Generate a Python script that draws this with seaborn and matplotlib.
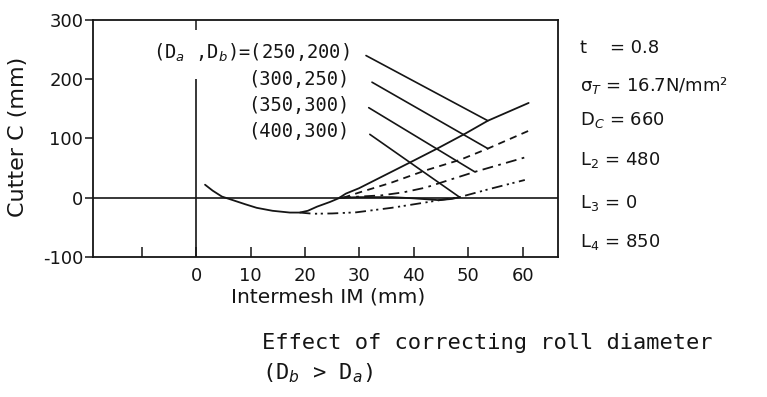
import numpy as np
import pandas as pd
import matplotlib
matplotlib.use("Agg")
import matplotlib.pyplot as plt
import seaborn as sns

# ---------------- data ----------------
base_x = [1.6, 3.0, 4.7, 6.7, 9.0, 11.1, 14.0, 17.2, 19.0, 20.5, 22.2, 24.6, 26.4,
          30.0, 36.0, 40.0, 44.5, 47.0, 48.4]
base_y = [22, 12, 2, -4, -11, -17, -22, -25, -25, -22, -15, -7, 0,
          1, 1, -1, -4, -2, 1]

s1_x = [26.3, 27.5, 29.9, 39.6, 44.5, 49.4, 53.6, 61.1]          # (250,200) solid
s1_y = [0, 7, 16, 61, 84, 108, 130, 160]
s2_x = [27.0, 30.0, 35.7, 42.1, 48.5, 53.6, 61.1]                # (300,250) dashed
s2_y = [0, 9, 25, 46, 64, 83, 113]
s3_x = [26.4, 30.0, 34.0, 38.0, 42.1, 46.5, 51.2, 60.4]          # (350,300) dash-dot
s3_y = [0, 2, 4, 9, 17, 30, 43.7, 68]
s4_x = [19.0, 21.5, 25.0, 29.4, 35.9, 42.1, 44.5, 48.4, 54.0, 60.4]  # (400,300) dash-dot-dot
s4_y = [-25, -27, -26.5, -24.6, -17, -8, -4.4, 1, 15, 30]

series_names = ["(250,200)", "(300,250)", "(350,300)", "(400,300)"]

# leader lines from the labels to the curves
lead_x0 = [31.2, 32.3, 31.7, 31.9]
lead_y0 = [240, 195, 152, 107]
lead_x1 = [53.6, 53.6, 51.2, 48.4]
lead_y1 = [130, 83, 43.7, 1]

label_texts = ["(D$_a$ ,D$_b$)=(250,200)", "(300,250)", "(350,300)", "(400,300)"]
label_y = [245, 199, 155, 111]
label_x = 28.1

xticks = [-10, 0, 10, 20, 30, 40, 50, 60]
xticklabels = ["", "0", "10", "20", "30", "40", "50", "60"]
yticks = [-100, 0, 100, 200, 300]
yticklabels = ["-100", "0", "100", "200", "300"]

ref_x = 0
ref_ymin, ref_ymax = -100, 200

params = ["t    = 0.8", "σ$_T$ = 16.7N/mm²", "D$_C$ = 660",
          "L$_2$ = 480", "L$_3$ = 0", "L$_4$ = 850"]

# ---------------- figure ----------------
sns.set_theme(style="white")
plt.rcParams["font.family"] = ["DejaVu Sans"]
plt.rcParams["axes.unicode_minus"] = False

W, H = 767, 397
fig = plt.figure(figsize=(W / 100, H / 100), dpi=100)
ax = fig.add_axes([93 / W, 1 - 257 / H, 465 / W, 237 / H])
ink = "#151515"
mono = "DejaVu Sans Mono"

frames = []
for name, xs, ys in zip(series_names, [s1_x, s2_x, s3_x, s4_x], [s1_y, s2_y, s3_y, s4_y]):
    frames.append(pd.DataFrame({"x": xs, "y": ys, "series": name}))
df = pd.concat(frames, ignore_index=True)

dash_map = {"(250,200)": "", "(300,250)": (4, 3),
            "(350,300)": (6, 3, 1.5, 3), "(400,300)": (6, 2.5, 1.2, 2, 1.2, 2.5)}
sns.lineplot(data=df, x="x", y="y", style="series", dashes=dash_map,
             color=ink, linewidth=1.3, estimator=None, sort=False,
             legend=False, ax=ax)

base_df = pd.DataFrame({"x": base_x, "y": base_y})
sns.lineplot(data=base_df, x="x", y="y", color=ink, linewidth=1.3,
             estimator=None, sort=False, legend=False, ax=ax)

for i in range(len(lead_x0)):
    ldf = pd.DataFrame({"x": [lead_x0[i], lead_x1[i]], "y": [lead_y0[i], lead_y1[i]]})
    sns.lineplot(data=ldf, x="x", y="y", color=ink, linewidth=1.2,
                 estimator=None, sort=False, legend=False, ax=ax)

for txt, yy in zip(label_texts, label_y):
    ax.text(label_x, yy, txt, ha="right", va="center", fontsize=13.5,
            family=mono, color=ink)

ax.axhline(0, color=ink, linewidth=1.2)
ax.vlines(ref_x, ref_ymin, ref_ymax, color=ink, linewidth=1.2)

ax.set_xlim(-19, 66.5)
ax.set_ylim(-100, 300)
ax.set_xticks(xticks)
ax.set_xticklabels(xticklabels)
ax.set_yticks(yticks)
ax.set_yticklabels(yticklabels)
ax.tick_params(axis="x", direction="in", length=7, width=1.1, colors=ink,
               labelsize=13, pad=7, bottom=True)
ax.tick_params(axis="y", direction="out", length=6, width=1.1, colors=ink,
               labelsize=13, pad=1, left=True)
for sp in ax.spines.values():
    sp.set_color(ink)
    sp.set_linewidth(1.3)
    sp.set_visible(True)

top = ax.secondary_xaxis("top")
top.set_xticks([ref_x])
top.set_xticklabels([""])
top.tick_params(direction="in", length=7, width=1.1, colors=ink)
top.spines["top"].set_visible(False)

ax.set_xlabel("Intermesh IM (mm)", fontsize=14.5, color=ink)
ax.xaxis.set_label_coords((328 - 93) / 465, (257 - 297) / 237)
ax.xaxis.label.set_va("center")
ax.set_ylabel("Cutter C (mm)", fontsize=16, color=ink)
ax.yaxis.set_label_coords((18 - 93) / 465, (257 - 137) / 237)
ax.yaxis.label.set_va("center")

param_y = [48, 85, 120, 160, 203, 242]
for txt, py in zip(params, param_y):
    fig.text(580 / W, 1 - py / H, txt, ha="left", va="center", fontsize=13, color=ink)

fig.text(262 / W, 1 - 343 / H, "Effect of correcting roll diameter",
         ha="left", va="center", fontsize=15.8, family=mono, color=ink)
fig.text(262 / W, 1 - 373 / H, "(D$_b$ > D$_a$)",
         ha="left", va="center", fontsize=15.8, family=mono, color=ink)

fig.savefig("out.png", dpi=100, facecolor="white")
